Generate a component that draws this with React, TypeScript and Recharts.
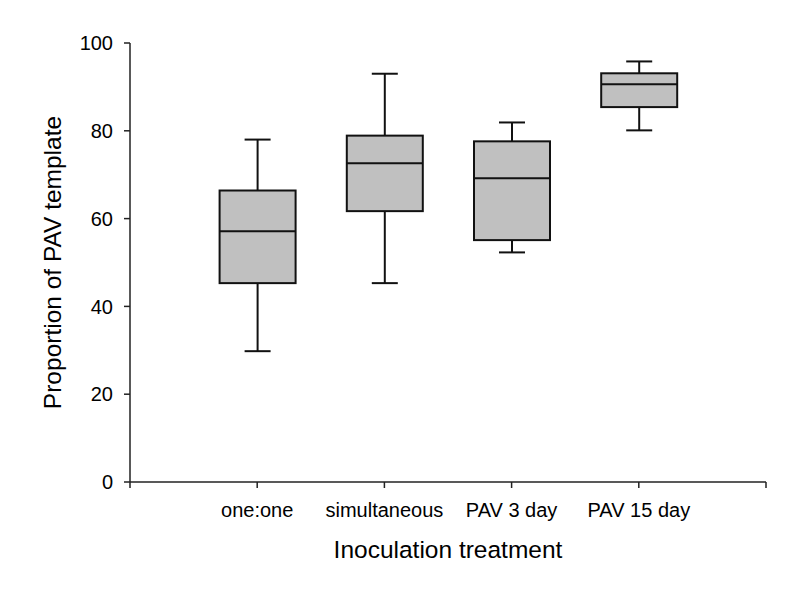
import { ComposedChart, Bar, XAxis, YAxis } from 'recharts';

// box plot summary per treatment
const categories = ['one:one', 'simultaneous', 'PAV 3 day', 'PAV 15 day'];
const positions = [1, 2, 3, 4];
const whiskerLow = [29.8, 45.3, 52.3, 80.1];
const quartile1 = [45.3, 61.7, 55.1, 85.4];
const medians = [57.1, 72.6, 69.2, 90.6];
const quartile3 = [66.4, 78.9, 77.6, 93.1];
const whiskerHigh = [78.0, 93.0, 81.9, 95.8];

const xTicks = [0, 1, 2, 3, 4, 5];
const yTicks = [0, 20, 40, 60, 80, 100];

const FONT = '"Liberation Sans", Arial, Helvetica, sans-serif';

const data = positions.map((pos, i) => ({
  pos,
  name: categories[i],
  low: whiskerLow[i],
  q1: quartile1[i],
  median: medians[i],
  q3: quartile3[i],
  high: whiskerHigh[i],
  range: [whiskerLow[i], whiskerHigh[i]],
}));

// Bar spans low..high; derive the value->pixel mapping from its geometry
const BoxShape = (props: any) => {
  const { x, y, width, height, payload } = props;
  if (!payload) return null;
  const top = Math.min(y, y + height);
  const h = Math.abs(height);
  const k = h / (payload.high - payload.low);
  const py = (v: number) => top + (payload.high - v) * k;
  const cx = x + width / 2;
  const cap = 13;
  const s = { stroke: '#111', strokeWidth: 2 };
  return (
    <g>
      <line x1={cx} x2={cx} y1={py(payload.high)} y2={py(payload.q3)} {...s} />
      <line x1={cx} x2={cx} y1={py(payload.q1)} y2={py(payload.low)} {...s} />
      <line x1={cx - cap} x2={cx + cap} y1={py(payload.high)} y2={py(payload.high)} {...s} />
      <line x1={cx - cap} x2={cx + cap} y1={py(payload.low)} y2={py(payload.low)} {...s} />
      <rect
        x={x}
        y={py(payload.q3)}
        width={width}
        height={py(payload.q1) - py(payload.q3)}
        fill="#c0c0c0"
        {...s}
      />
      <line x1={x} x2={x + width} y1={py(payload.median)} y2={py(payload.median)} {...s} />
    </g>
  );
};

const YTitle = (props: any) => {
  const vb = props.viewBox || { x: 0, y: 0, width: 0, height: 0 };
  const tx = 52;
  const ty = vb.y + vb.height / 2;
  return (
    <text
      x={tx}
      y={ty}
      transform={`rotate(-90, ${tx}, ${ty})`}
      textAnchor="middle"
      dominantBaseline="central"
      fontSize={24.5}
      fontFamily={FONT}
      fill="#000"
    >
      Proportion of PAV template
    </text>
  );
};

export default function App() {
  return (
    <div style={{ position: 'absolute', left: 0, top: 0, width: 800, height: 598, background: '#fff' }}>
      <ComposedChart
        width={800}
        height={598}
        data={data}
        margin={{ top: 43, right: 34, left: 0, bottom: 36 }}
      >
        <XAxis
          dataKey="pos"
          type="number"
          domain={[0, 5]}
          ticks={xTicks}
          interval={0}
          height={80}
          tickFormatter={(v: number) => (v >= 1 && v <= 4 ? categories[v - 1] : '')}
          axisLine={{ stroke: '#222', strokeWidth: 1.5 }}
          tickLine={{ stroke: '#222', strokeWidth: 1.5 }}
          tickSize={6}
          tickMargin={15}
          tick={{ fill: '#000', fontSize: 20, fontFamily: FONT }}
          label={{
            value: 'Inoculation treatment',
            position: 'insideBottom',
            offset: 4,
            fill: '#000',
            fontSize: 24.5,
            fontFamily: FONT,
          }}
        />
        <YAxis
          type="number"
          domain={[0, 100]}
          ticks={yTicks}
          interval={0}
          width={130}
          axisLine={{ stroke: '#222', strokeWidth: 1.5 }}
          tickLine={{ stroke: '#222', strokeWidth: 1.5 }}
          tickSize={6}
          tickMargin={11}
          tick={{ fill: '#000', fontSize: 20, fontFamily: FONT }}
          label={<YTitle />}
        />
        <Bar dataKey="range" barSize={76} shape={<BoxShape />} isAnimationActive={false} />
      </ComposedChart>
    </div>
  );
}
